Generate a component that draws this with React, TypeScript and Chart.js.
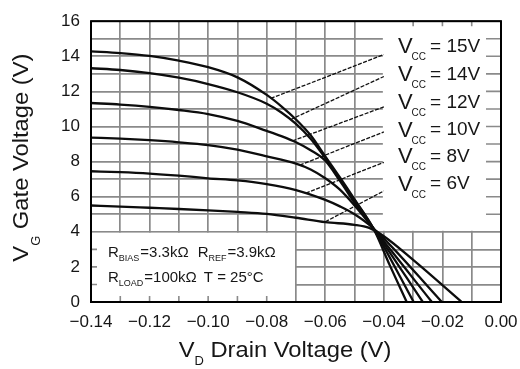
import React, { useEffect, useRef } from "react";
import { Chart, registerables } from "chart.js";

Chart.register(...registerables);

// ---- data ----
const vccLabels = ["15V", "14V", "12V", "10V", "8V", "6V"];

const x15 = [-0.14, -0.13, -0.12, -0.11, -0.10, -0.09, -0.08, -0.075, -0.07, -0.065, -0.06, -0.055, -0.05, -0.0436, -0.038, -0.0322];
const y15 = [14.28, 14.18, 14.02, 13.75, 13.38, 12.8, 11.8, 11.15, 10.4, 9.5, 8.3, 7.1, 5.85, 4.2, 2.1, 0];

const x14 = [-0.14, -0.13, -0.12, -0.11, -0.10, -0.09, -0.08, -0.075, -0.07, -0.065, -0.06, -0.055, -0.05, -0.0436, -0.0298];
const y14 = [13.32, 13.22, 13.04, 12.78, 12.42, 11.95, 11.3, 10.8, 10.15, 9.3, 8.2, 7.0, 5.8, 4.2, 0];

const x12 = [-0.14, -0.13, -0.12, -0.11, -0.10, -0.09, -0.08, -0.075, -0.07, -0.065, -0.06, -0.055, -0.05, -0.0436, -0.0267];
const y12 = [11.34, 11.25, 11.12, 10.94, 10.71, 10.32, 9.75, 9.45, 9.1, 8.65, 8.05, 6.9, 5.65, 4.2, 0];

const x10 = [-0.14, -0.13, -0.12, -0.11, -0.10, -0.09, -0.08, -0.07, -0.065, -0.06, -0.055, -0.05, -0.0436, -0.0236];
const y10 = [9.37, 9.31, 9.22, 9.1, 8.94, 8.68, 8.3, 7.88, 7.55, 7.05, 6.4, 5.5, 4.2, 0];

const x8 = [-0.14, -0.13, -0.12, -0.11, -0.10, -0.09, -0.08, -0.07, -0.06, -0.055, -0.05, -0.0436, -0.0202];
const y8 = [7.45, 7.4, 7.32, 7.2, 7.05, 6.93, 6.72, 6.38, 5.82, 5.45, 5.0, 4.2, 0];

const x6 = [-0.14, -0.13, -0.12, -0.11, -0.10, -0.09, -0.08, -0.07, -0.06, -0.05, -0.045, -0.04, -0.03, -0.0134];
const y6 = [5.5, 5.44, 5.37, 5.3, 5.22, 5.13, 5.02, 4.8, 4.55, 4.4, 4.22, 3.75, 2.4, 0];

const curvesX = [x15, x14, x12, x10, x8, x6];
const curvesY = [y15, y14, y12, y10, y8, y6];

// leader lines from each label to its curve
const leaderRightX = -0.04;
const leaderRightY = [14.1, 12.85, 11.12, 9.69, 7.96, 6.33];
const leaderLeftX = [-0.0786, -0.0718, -0.0712, -0.0687, -0.0666, -0.06];
const leaderLeftY = [11.6, 10.4, 9.18, 7.8, 6.2, 4.57];

// label anchors (data coords)
const labelX = -0.0352;
const labelY = [14.16, 12.57, 10.99, 9.42, 7.92, 6.34];

const noteX = -0.1342;
const noteY = [2.55, 1.12];

// ticks / grid
const xGrid = [-0.14, -0.13, -0.12, -0.11, -0.1, -0.09, -0.08, -0.07, -0.06, -0.05, -0.04, -0.03, -0.02, -0.01, 0];
const yGrid = [0, 1, 2, 3, 4, 5, 6, 7, 8, 9, 10, 11, 12, 13, 14, 15, 16];

const FONT = "Arial, 'Liberation Sans', Helvetica, sans-serif";
const GRID = "#8a8a8a";
const TEXT = "#161616";

const fmtX = (v: number) => (Math.abs(v) < 1e-9 ? "0.00" : "\u2212" + Math.abs(v).toFixed(2));

function drawTitle(ctx: any, main: string, sub: string, rest: string, cx0: number, subDy: number, stretch: number) {
  ctx.font = `22px ${FONT}`;
  const wV = ctx.measureText(main).width;
  const wR = ctx.measureText(rest).width;
  ctx.font = `12px ${FONT}`;
  const wS = ctx.measureText(sub).width;
  const total = (wV + wS + wR) * stretch;
  ctx.save();
  ctx.translate(cx0 - total / 2, 0);
  ctx.scale(stretch, 1);
  let cx = 0;
  ctx.font = `22px ${FONT}`;
  ctx.fillText(main, cx, 0);
  cx += wV;
  ctx.font = `12px ${FONT}`;
  ctx.fillText(sub, cx, subDy);
  cx += wS;
  ctx.font = `22px ${FONT}`;
  ctx.fillText(rest, cx, 0);
  ctx.restore();
}

const decor = {
  id: "decor",
  beforeDatasetsDraw(chart: any) {
    const { ctx, chartArea: ca, scales } = chart;
    const x = scales.x, y = scales.y;
    ctx.save();
    ctx.fillStyle = "#fff";
    // label box (top right)
    const bx = x.getPixelForValue(-0.04) - 1;
    const by = y.getPixelForValue(4) - 1;
    ctx.fillRect(bx, ca.top, ca.right - bx, by - ca.top);
    // note box (bottom left)
    const cx = x.getPixelForValue(-0.07) - 1;
    const cy = y.getPixelForValue(4) + 1;
    ctx.fillRect(ca.left, cy, cx - ca.left, ca.bottom - cy);

    ctx.strokeStyle = GRID;
    ctx.lineWidth = 1.6;
    ctx.beginPath();
    for (let v = 5; v <= 15; v++) {
      const py = y.getPixelForValue(v);
      ctx.moveTo(ca.right - 15, py);
      ctx.lineTo(ca.right, py);
    }
    for (const v of [-0.03, -0.02, -0.01]) {
      const px = x.getPixelForValue(v);
      ctx.moveTo(px, ca.top);
      ctx.lineTo(px, ca.top + 5);
    }
    for (const v of [-0.13, -0.12, -0.11, -0.1, -0.09, -0.08]) {
      const px = x.getPixelForValue(v);
      ctx.moveTo(px, ca.bottom);
      ctx.lineTo(px, ca.bottom - 6);
    }
    for (const v of [1, 2, 3]) {
      const py = y.getPixelForValue(v);
      ctx.moveTo(ca.left, py);
      ctx.lineTo(ca.left + 6, py);
    }
    ctx.stroke();
    ctx.restore();
  },
  afterDatasetsDraw(chart: any) {
    const { ctx, chartArea: ca, scales } = chart;
    const x = scales.x, y = scales.y;
    ctx.save();
    // frame
    ctx.strokeStyle = "#000";
    ctx.lineWidth = 2;
    ctx.strokeRect(ca.left, ca.top, ca.right - ca.left, ca.bottom - ca.top);

    ctx.fillStyle = TEXT;
    ctx.textAlign = "left";
    ctx.textBaseline = "alphabetic";

    // Vcc labels
    for (let i = 0; i < vccLabels.length; i++) {
      const px = x.getPixelForValue(labelX);
      const py = y.getPixelForValue(labelY[i]);
      ctx.font = `22px ${FONT}`;
      ctx.fillText("V", px, py);
      let cx = px + ctx.measureText("V").width - 1;
      ctx.font = `10px ${FONT}`;
      ctx.fillText("CC", cx, py + 7);
      cx += ctx.measureText("CC").width + 4;
      ctx.font = `19px ${FONT}`;
      ctx.fillText("= " + vccLabels[i], cx, py - 1.5);
    }

    // notes
    const notes: [string, string, string, number][][] = [
      [["R", "BIAS", "=3.3k\u03A9", 9], ["R", "REF", "=3.9k\u03A9", 0]],
      [["R", "LOAD", "=100k\u03A9", 7], ["T = 25\u00B0C", "", "", 0]],
    ];
    for (let l = 0; l < notes.length; l++) {
      let cx = x.getPixelForValue(noteX);
      const py = y.getPixelForValue(noteY[l]);
      for (const [main, sub, rest, gap] of notes[l]) {
        ctx.font = `15px ${FONT}`;
        ctx.fillText(main, cx, py);
        cx += ctx.measureText(main).width;
        if (sub) {
          ctx.font = `9px ${FONT}`;
          ctx.fillText(sub, cx, py + 4);
          cx += ctx.measureText(sub).width + 1;
        }
        if (rest) {
          ctx.font = `15px ${FONT}`;
          ctx.fillText(rest, cx, py);
          cx += ctx.measureText(rest).width;
        }
        cx += gap;
      }
    }

    // x title
    ctx.save();
    ctx.translate(0, ca.bottom + 55);
    drawTitle(ctx, "V", "D", " Drain Voltage (V)", (ca.left + ca.right) / 2 - 11, 8, 1.08);
    ctx.restore();
    // y title
    ctx.save();
    ctx.translate(28, (ca.top + ca.bottom) / 2 - 4);
    ctx.rotate(-Math.PI / 2);
    drawTitle(ctx, "V", "G", " Gate Voltage (V)", 0, 12, 1.08);
    ctx.restore();

    ctx.restore();
  },
};

export default function App() {
  const ref = useRef<HTMLCanvasElement | null>(null);
  useEffect(() => {
    if (!ref.current) return;
    const curveSets = curvesX.map((xs, i) => ({
      data: xs.map((v, j) => ({ x: v, y: curvesY[i][j] })),
      showLine: true,
      borderColor: "#0d0d0d",
      borderWidth: 2.3,
      pointRadius: 0,
      cubicInterpolationMode: "monotone" as const,
      fill: false,
    }));
    const leaderSets = leaderLeftX.map((lx, i) => ({
      data: [
        { x: lx, y: leaderLeftY[i] },
        { x: leaderRightX, y: leaderRightY[i] },
      ],
      showLine: true,
      borderColor: "#111",
      borderWidth: 1.3,
      borderDash: [4, 1.5],
      pointRadius: 0,
      fill: false,
    }));
    const chart = new Chart(ref.current, {
      type: "scatter",
      data: { datasets: [...curveSets, ...leaderSets] as any },
      options: {
        responsive: false,
        animation: false,
        devicePixelRatio: 1,
        layout: { padding: { top: 15, right: 29, left: 0, bottom: 0 } },
        plugins: { legend: { display: false }, tooltip: { enabled: false } },
        scales: {
          x: {
            type: "linear",
            min: -0.14,
            max: 0,
            afterFit: (s: any) => { s.height = 67; },
            afterBuildTicks: (s: any) => { s.ticks = xGrid.map((v) => ({ value: v })); },
            grid: { color: GRID, lineWidth: 1.7, drawTicks: false },
            border: { display: false },
            ticks: {
              padding: 10,
              color: TEXT,
              autoSkip: false,
              maxRotation: 0,
              font: { size: 17, family: FONT },
              callback: (v: any) => (Math.round(Number(v) * 100) % 2 === 0 ? fmtX(Number(v)) : ""),
            },
          },
          y: {
            type: "linear",
            min: 0,
            max: 16,
            afterFit: (s: any) => { s.width = 91; },
            afterBuildTicks: (s: any) => { s.ticks = yGrid.map((v) => ({ value: v })); },
            grid: { color: GRID, lineWidth: 1.7, drawTicks: false },
            border: { display: false },
            ticks: {
              padding: 11,
              color: TEXT,
              autoSkip: false,
              font: { size: 17, family: FONT },
              callback: (v: any) => (Math.round(Number(v)) % 2 === 0 ? String(v) : ""),
            },
          },
        },
      } as any,
      plugins: [decor],
    });
    return () => chart.destroy();
  }, []);
  return (
    <div style={{ position: "fixed", left: 0, top: 0, width: 520, height: 369, overflow: "hidden", background: "#fff" }}>
      <canvas ref={ref} width={530} height={369} style={{ display: "block" }} />
    </div>
  );
}
